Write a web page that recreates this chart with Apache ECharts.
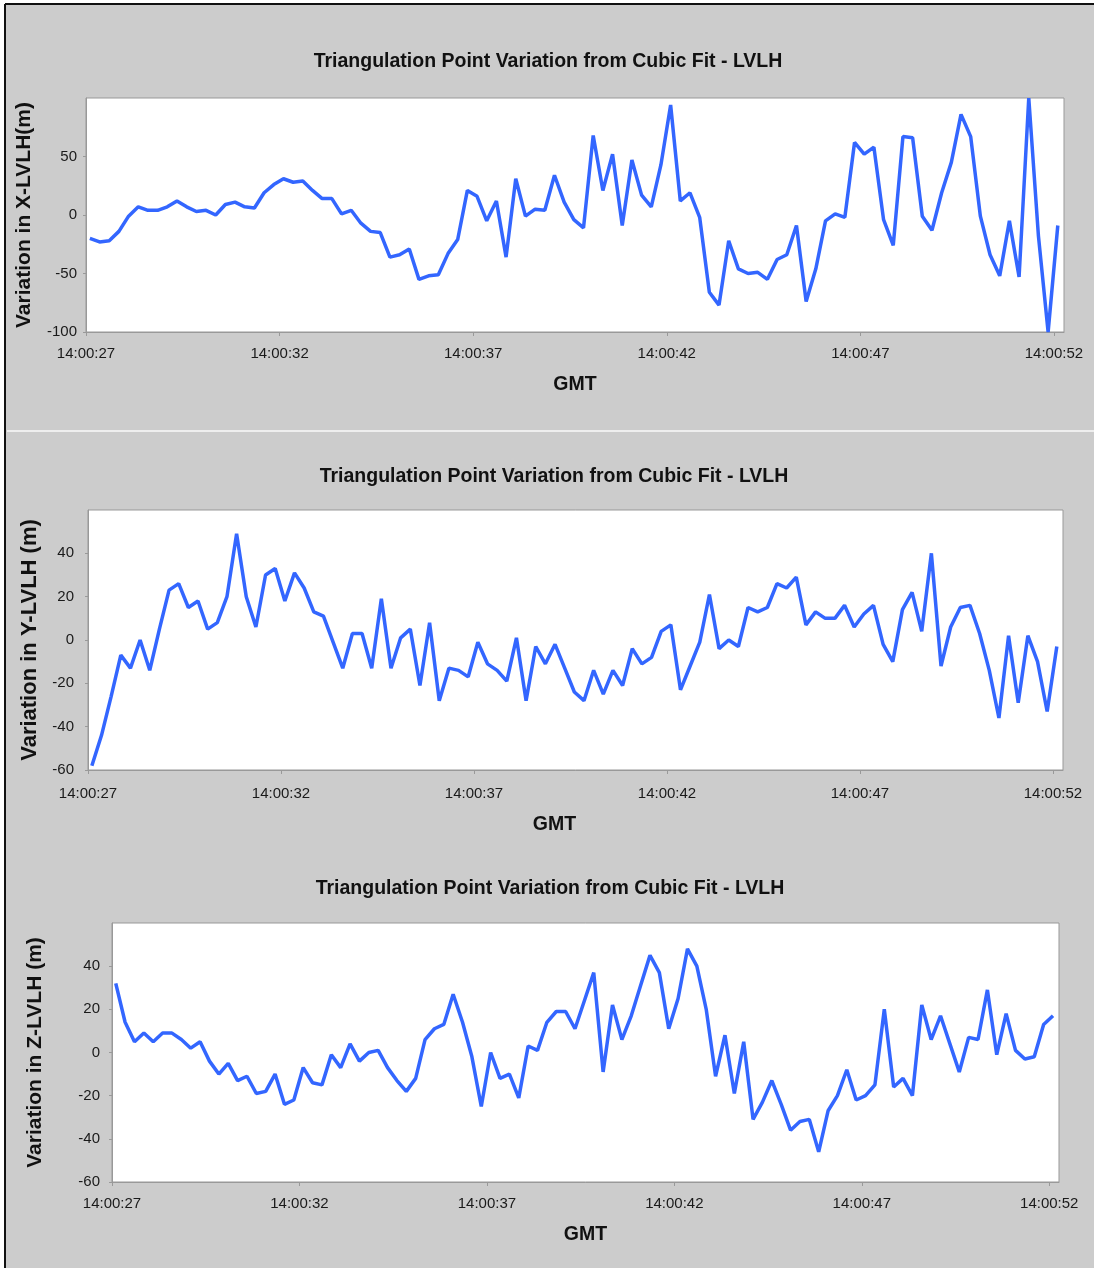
<!DOCTYPE html>
<html>
<head>
<meta charset="utf-8">
<script src="https://cdn.jsdelivr.net/npm/echarts@6/dist/echarts.min.js"></script>
<style>
  html, body { margin: 0; padding: 0; background: #fff; }
  #main { width: 1094px; height: 1268px; }
</style>
</head>
<body>
<div id="main"></div>
<script>
// sampling grid: seconds after 14:00:27
var T_START = 0.1, T_STEP = 0.25;
var tickLabels = ['14:00:27', '14:00:32', '14:00:37', '14:00:42', '14:00:47', '14:00:52'];

var xLvlh = [-20, -23, -22, -14, -1, 7, 4, 4, 7, 12, 7, 3, 4, 0, 9, 11, 7, 6, 19, 26,
  31, 28, 29, 21, 14, 14, 1, 4, -7, -14, -15, -36, -34, -29, -55, -52, -51, -33, -21, 21,
  16, -5, 12, -36, 31, -1, 5, 4, 34, 11, -4, -11, 68, 21, 52, -9, 47, 17, 7, 43,
  94, 12, 19, -2, -66, -77, -22, -46, -50, -49, -55, -38, -34, -9, -74, -46, -5, 1, -2, 62,
  52, 58, -4, -26, 67, 66, -1, -13, 19, 45, 86, 67, -1, -34, -52, -5, -53, 100, -18, -100, -9];

var yLvlh = [-58, -44, -26, -7, -13, 0, -14, 5, 23, 26, 15, 18, 5, 8, 20, 49, 20, 6, 30, 33,
  18, 31, 24, 13, 11, -1, -13, 3, 3, -13, 19, -13, 1, 5, -21, 8, -28, -13, -14, -17,
  -1, -11, -14, -19, 1, -28, -3, -11, -2, -13, -24, -28, -14, -25, -14, -21, -4, -11, -8, 4,
  7, -23, -12, -1, 21, -4, 0, -3, 15, 13, 15, 26, 24, 29, 7, 13, 10, 10, 16, 6,
  12, 16, -2, -10, 14, 22, 4, 40, -12, 6, 15, 16, 3, -14, -36, 2, -29, 2, -10, -33, -3];

var zLvlh = [32, 14, 5, 9, 5, 9, 9, 6, 2, 5, -4, -10, -5, -13, -11, -19, -18, -10, -24, -22,
  -7, -14, -15, -1, -7, 4, -4, 0, 1, -7, -13, -18, -12, 6, 11, 13, 27, 14, -2, -25,
  0, -12, -10, -21, 3, 1, 14, 19, 19, 11, 24, 37, -9, 22, 6, 17, 31, 45, 37, 11,
  25, 48, 40, 20, -11, 8, -19, 5, -31, -23, -13, -24, -36, -32, -31, -46, -27, -20, -8, -22,
  -20, -15, 20, -16, -12, -20, 22, 6, 17, 4, -9, 7, 6, 29, -1, 18, 1, -3, -2, 13, 17];

var chartTitle = 'Triangulation Point Variation from Cubic Fit - LVLH';
var yNames = ['Variation in X-LVLH(m)', 'Variation in Y-LVLH (m)', 'Variation in Z-LVLH (m)'];

function pairs(vals) {
  var out = [];
  for (var i = 0; i < vals.length; ++i) {
    out.push([T_START + i * T_STEP, vals[i]]);
  }
  return out;
}

var grids = [
  {left: 86, top: 98, width: 978, height: 234},
  {left: 88, top: 510, width: 975, height: 260},
  {left: 112, top: 923, width: 947, height: 259}
];

var myChart = echarts.init(document.getElementById('main'));

var xAxes = [], yAxes = [], series = [];
var yRanges = [[-100, 100, 50], [-60, 60, 20], [-60, 60, 20]];
var yNameGaps = [51, 43, 66];
var yLabelMargins = [9, 14, 12];
var yNameSizes = [21, 22, 21];
var data = [xLvlh, yLvlh, zLvlh];

for (var k = 0; k < 3; ++k) {
  grids[k].show = true;
  grids[k].backgroundColor = '#fff';
  grids[k].borderColor = '#999';
  grids[k].borderWidth = 1;
  xAxes.push({
    type: 'value',
    gridIndex: k,
    min: 0,
    max: 25.26,
    interval: 5,
    name: 'GMT',
    nameLocation: 'middle',
    nameGap: k == 1 ? 45 : 43,
    nameTextStyle: {
      fontFamily: 'Liberation Sans, Arial',
      fontWeight: 'bold',
      fontSize: 19.5,
      color: '#111',
      padding: k == 1 ? [0, 42, 0, 0] : 0
    },
    splitLine: {show: false},
    axisLine: {show: true, onZero: false, lineStyle: {color: '#999', width: 1}},
    axisTick: {show: true, length: 4, lineStyle: {color: '#999'}},
    axisLabel: {
      margin: k == 1 ? 16 : 14,
      fontFamily: 'Liberation Sans, Arial',
      fontSize: 15,
      color: '#1a1a1a',
      showMaxLabel: false,
      formatter: function (v) {
        if (Math.abs(v / 5 - Math.round(v / 5)) > 1e-6) return '';
        return tickLabels[Math.round(v / 5)] || '';
      }
    }
  });
  yAxes.push({
    type: 'value',
    gridIndex: k,
    min: yRanges[k][0],
    max: yRanges[k][1],
    interval: yRanges[k][2],
    name: yNames[k],
    nameLocation: 'middle',
    nameGap: yNameGaps[k],
    nameTextStyle: {
      fontFamily: 'Liberation Sans, Arial',
      fontWeight: 'bold',
      fontSize: yNameSizes[k],
      color: '#111'
    },
    splitLine: {show: false},
    axisLine: {show: true, onZero: false, lineStyle: {color: '#999', width: 1}},
    axisTick: {show: true, length: 3, lineStyle: {color: '#999'}},
    axisLabel: {
      margin: yLabelMargins[k],
      fontFamily: 'Liberation Sans, Arial',
      fontSize: 15,
      color: '#1a1a1a',
      showMaxLabel: false
    }
  });
  series.push({
    type: 'line',
    xAxisIndex: k,
    yAxisIndex: k,
    data: pairs(data[k]),
    showSymbol: false,
    symbol: 'none',
    smooth: false,
    animation: false,
    lineStyle: {color: '#3366ff', width: 3.5},
    clip: false
  });
}

var titleFont = 'bold 19.5px "Liberation Sans", Arial';
var option = {
  backgroundColor: '#fff',
  animation: false,
  graphic: [
    {type: 'rect', z: -10, shape: {x: 5, y: 4, width: 1089, height: 1264}, style: {fill: '#cccccc'}},
    {type: 'line', z: -5, shape: {x1: 5, y1: 4, x2: 5, y2: 1268}, style: {stroke: '#111', lineWidth: 2}},
    {type: 'line', z: -5, shape: {x1: 5, y1: 4, x2: 1094, y2: 4}, style: {stroke: '#111', lineWidth: 2}},
    {type: 'line', z: -5, shape: {x1: 7, y1: 431, x2: 1094, y2: 431}, style: {stroke: '#eeeeee', lineWidth: 2}},
    {type: 'text', x: 548, y: 62, style: {text: chartTitle, font: titleFont, fill: '#111', align: 'center', verticalAlign: 'middle'}},
    {type: 'text', x: 554, y: 477, style: {text: chartTitle, font: titleFont, fill: '#111', align: 'center', verticalAlign: 'middle'}},
    {type: 'text', x: 550, y: 889, style: {text: chartTitle, font: titleFont, fill: '#111', align: 'center', verticalAlign: 'middle'}}
  ],
  grid: grids,
  xAxis: xAxes,
  yAxis: yAxes,
  series: series
};

myChart.setOption(option);
</script>
</body>
</html>
